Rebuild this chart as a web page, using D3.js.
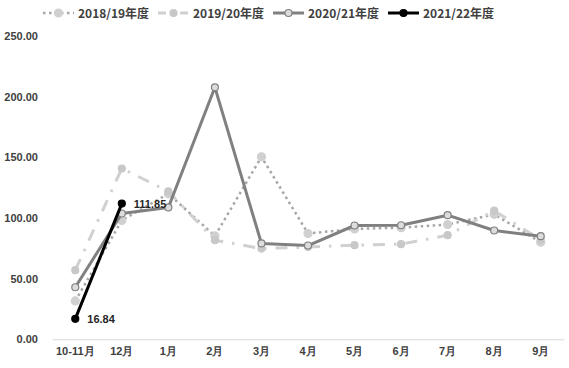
<!DOCTYPE html>
<html><head><meta charset="utf-8">
<script src="https://cdn.jsdelivr.net/npm/d3@7"></script>
<style>
html,body{margin:0;padding:0;background:#fff;}
svg{display:block;font-family:"Noto Sans CJK SC","Liberation Sans",sans-serif;}
</style></head>
<body>
<svg id="c" width="569" height="368"></svg>
<script>
const categories = ["10-11月","12月","1月","2月","3月","4月","5月","6月","7月","8月","9月"];
const s2018 = [31.6, 98, 120, 85.2, 150.4, 87.2, 91, 92, 94.6, 103, 80];
const s2019 = [57, 140.8, 122, 81.7, 74.8, 76, 77.6, 78.4, 85.8, 106, 82];
const s2020 = [42.9, 103.7, 108.7, 207.7, 79, 77.3, 93.8, 94, 102.3, 89.7, 85];
const s2021 = [16.84, 111.85];
const seriesNames = ["2018/19年度","2019/20年度","2020/21年度","2021/22年度"];
const yTicks = [0, 50, 100, 150, 200, 250];

const svg = d3.select("#c");
const x = d3.scaleBand().domain(categories).range([52, 564]);
const y = d3.scaleLinear().domain([0, 250]).range([339.3, 36]);
const cx = d => x(d) + x.bandwidth() / 2;

// y axis labels
const yAxis = d3.axisLeft(y).tickValues(yTicks).tickFormat(d3.format(".2f")).tickSize(0).tickPadding(0);
const yg = svg.append("g").attr("transform", "translate(38,0)").call(yAxis);
yg.select(".domain").remove();
yg.selectAll("text").attr("font-size", 11).attr("font-weight", "bold").attr("fill", "#404040")
  .attr("font-family", "Liberation Sans, sans-serif");

// x axis
const xAxis = d3.axisBottom(x).tickSize(0).tickPadding(8);
const xg = svg.append("g").attr("transform", "translate(0,339.3)").call(xAxis);
xg.select(".domain").attr("stroke", "#d9d9d9").attr("stroke-width", 1);
xg.selectAll("text").attr("font-size", 11).attr("font-weight", "bold").attr("fill", "#404040");

const line = d3.line().x((d, i) => cx(categories[i])).y(d => y(d));

const styles = [
  {data: s2018, stroke: "#a6a6a6", width: 2.5, dash: "2.5,3.5", cap: "butt", mfill: "#d0d0d0", mstroke: "#d0d0d0", r: 4},
  {data: s2019, stroke: "#d0d0d0", width: 3, dash: "12,9,2.5,9", cap: "butt", mfill: "#c8c8c8", mstroke: "#c8c8c8", r: 3.5},
  {data: s2020, stroke: "#808080", width: 3, dash: null, cap: "butt", mfill: "#dcdcdc", mstroke: "#808080", r: 3.5},
  {data: s2021, stroke: "#000000", width: 3, dash: null, cap: "butt", mfill: "#000000", mstroke: "#000000", r: 3.5}
];

styles.forEach(s => {
  svg.append("path").datum(s.data).attr("d", line).attr("fill", "none")
    .attr("stroke", s.stroke).attr("stroke-width", s.width)
    .attr("stroke-dasharray", s.dash).attr("stroke-linecap", s.cap).attr("stroke-linejoin", "round");
  svg.append("g").selectAll("circle").data(s.data).join("circle")
    .attr("cx", (d, i) => cx(categories[i])).attr("cy", d => y(d)).attr("r", s.r)
    .attr("fill", s.mfill).attr("stroke", s.mstroke).attr("stroke-width", 1.2);
});

// data labels for 2021/22
svg.append("g").selectAll("text").data(s2021).join("text")
  .attr("x", (d, i) => cx(categories[i]) + 12).attr("y", d => y(d) + 4)
  .attr("font-size", 11).attr("font-weight", "bold").attr("fill", "#262626")
  .attr("font-family", "Liberation Sans, sans-serif")
  .text(d => d3.format(".2f")(d));

// legend
const legX = [43, 158, 273, 388];
const leg = svg.append("g");
styles.forEach((s, i) => {
  const g = leg.append("g").attr("transform", `translate(${legX[i]},13)`);
  g.append("line").attr("x1", 0).attr("x2", 31).attr("y1", 0).attr("y2", 0)
    .attr("stroke", s.stroke).attr("stroke-width", s.width)
    .attr("stroke-dasharray", i === 1 ? "8,6,2,6" : s.dash).attr("stroke-linecap", s.cap);
  g.append("circle").attr("cx", 15.5).attr("cy", 0).attr("r", s.r)
    .attr("fill", s.mfill).attr("stroke", s.mstroke).attr("stroke-width", 1.2);
  g.append("text").attr("x", 35).attr("y", 4.5).attr("font-size", 12).attr("font-weight", "bold")
    .attr("fill", "#404040").text(seriesNames[i]);
});
</script>
</body></html>
